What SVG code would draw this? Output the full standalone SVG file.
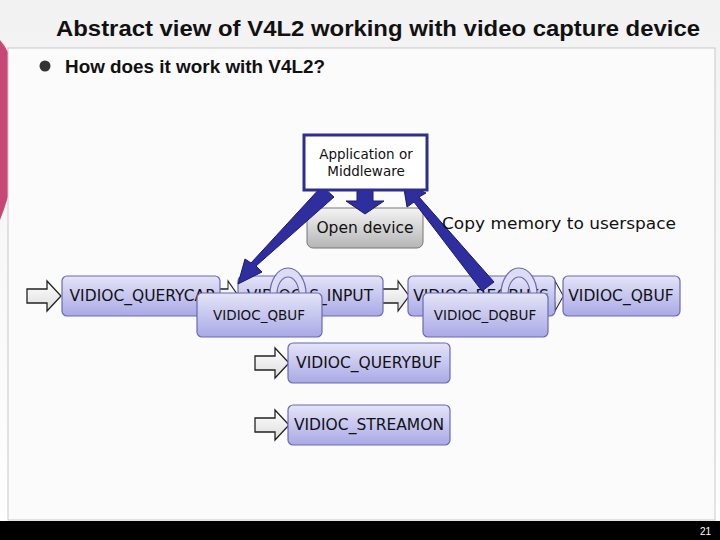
<svg xmlns="http://www.w3.org/2000/svg" width="720" height="540" viewBox="0 0 720 540">
<defs>
<linearGradient id="bg" x1="0" y1="0" x2="0" y2="1"><stop offset="0" stop-color="#f2f2f2"/><stop offset="1" stop-color="#ffffff"/></linearGradient>
<linearGradient id="pb" x1="0" y1="0" x2="0" y2="1"><stop offset="0" stop-color="#e4e4f8"/><stop offset="1" stop-color="#a9a9e6"/></linearGradient>
<linearGradient id="gr" x1="0" y1="0" x2="0" y2="1"><stop offset="0" stop-color="#f4f4f4"/><stop offset="1" stop-color="#b5b5b5"/></linearGradient>
<linearGradient id="ha" x1="0" y1="0" x2="0" y2="1"><stop offset="0" stop-color="#ffffff"/><stop offset="1" stop-color="#dcdcdc"/></linearGradient>
<path id="hollow" d="M0,-7 H20 V-15 L34,0 L20,15 V7 H0 Z"/>
</defs>
<style>
.t{font-family:"Liberation Sans",Arial,sans-serif;font-weight:bold;fill:#111}
.b{fill:url(#pb);stroke:#6a6ab0;stroke-width:1.2}
.l{font-family:"DejaVu Sans","Noto Sans",sans-serif;font-size:15.5px;fill:#111;text-anchor:middle}
.s{font-family:"DejaVu Sans","Noto Sans",sans-serif;font-size:13.5px;fill:#111;text-anchor:middle}
.h{fill:url(#ha);stroke:#222;stroke-width:1.3}
.big{fill:#2e2e9e;stroke:#1a1a6e;stroke-width:1}
.loop{fill:#dcdcf4;stroke:#6a6ab0;stroke-width:1.2}
</style>
<rect width="720" height="540" fill="url(#bg)"/>
<path d="M0,40 Q18,60 22,120 Q16,180 0,220 Z" fill="#c0285e" opacity="0.85"/>
<rect x="8" y="48" width="707" height="472" fill="#fbfbfb" stroke="#c8c8c8"/>
<text class="t" x="56" y="36" font-size="22" textLength="644" lengthAdjust="spacingAndGlyphs">Abstract view of V4L2 working with video capture device</text>
<circle cx="45" cy="66" r="5.5" fill="#333"/>
<text class="t" x="65" y="73" font-size="18" textLength="260" lengthAdjust="spacingAndGlyphs">How does it work with V4L2?</text>
<rect x="0" y="521" width="720" height="19" fill="#000"/>
<text x="711" y="535" font-family="Liberation Sans,Arial,sans-serif" font-size="10" fill="#fff" text-anchor="end">21</text>

<g id="connectors">
<use href="#hollow" class="h" transform="translate(27,296)"/>
<use href="#hollow" class="h" transform="translate(213,296) scale(0.75,1)"/>
<use href="#hollow" class="h" transform="translate(382,296) scale(0.8,1)"/>
<use href="#hollow" class="h" transform="translate(543,296) scale(0.6,1)"/>
<use href="#hollow" class="h" transform="translate(255,363)"/>
<use href="#hollow" class="h" transform="translate(255,425)"/>
</g>

<g id="querycap"><rect class="b" x="62" y="276" width="158" height="40" rx="5"/><text class="l" x="142" y="301">VIDIOC_QUERYCAP</text></g>
<g id="sinput"><rect class="b" x="238" y="276" width="145" height="40" rx="5"/><text class="l" x="310" y="301">VIDIOC_S_INPUT</text></g>
<g id="reqbufs"><rect class="b" x="408" y="276" width="147" height="40" rx="5"/><text class="l" x="481" y="301">VIDIOC_REQBUFS</text></g>
<g id="qbuf2"><rect class="b" x="563" y="276" width="117" height="40" rx="5"/><text class="l" x="621" y="301">VIDIOC_QBUF</text></g>
<g id="loops">
<path class="loop" d="M270,294 A18,26 0 1 1 306,294 L316,294 L303,306 L292,294 L299,294 A11,17 0 1 0 277,294 Z"/>
<path class="loop" d="M501,294 A18,26 0 1 1 537,294 L547,294 L534,306 L523,294 L530,294 A11,17 0 1 0 508,294 Z"/>
</g>
<g id="qbuf1"><rect class="b" x="197" y="293" width="125" height="44" rx="5"/><text class="s" x="259" y="320">VIDIOC_QBUF</text></g>
<g id="dqbuf"><rect class="b" x="423" y="293" width="125" height="44" rx="5"/><text class="s" x="485" y="320">VIDIOC_DQBUF</text></g>
<g id="querybuf"><rect class="b" x="288" y="343" width="162" height="40" rx="5"/><text class="l" x="369" y="368">VIDIOC_QUERYBUF</text></g>
<g id="streamon"><rect class="b" x="288" y="405" width="162" height="40" rx="5"/><text class="l" x="369" y="430">VIDIOC_STREAMON</text></g>
<g id="opendev"><rect x="307" y="208" width="116" height="40" rx="6" fill="url(#gr)" stroke="#777"/><text class="l" x="365" y="233">Open device</text></g>

<g id="bigarrows">
<path class="big" d="M322,186 L334,197 L256,266 L262,272 L238,284 L245,259 L251,263 Z"/>
<path class="big" d="M494,282 L482,291 L414,202 L407,207 L403,183 L426,193 L419,197 Z"/>
<path class="big" d="M357,190 H373 V201 H384 L365,214 L346,201 H357 Z"/>
</g>
<g id="app"><rect x="304" y="135" width="123" height="55" fill="#fff" stroke="#2e2e8e" stroke-width="3"/><text class="s" x="366" y="159">Application or</text><text class="s" x="366" y="176">Middleware</text></g>
<text x="442" y="229" font-family="DejaVu Sans,Noto Sans,sans-serif" font-size="16" fill="#111" textLength="234" lengthAdjust="spacingAndGlyphs">Copy memory to userspace</text>
</svg>
